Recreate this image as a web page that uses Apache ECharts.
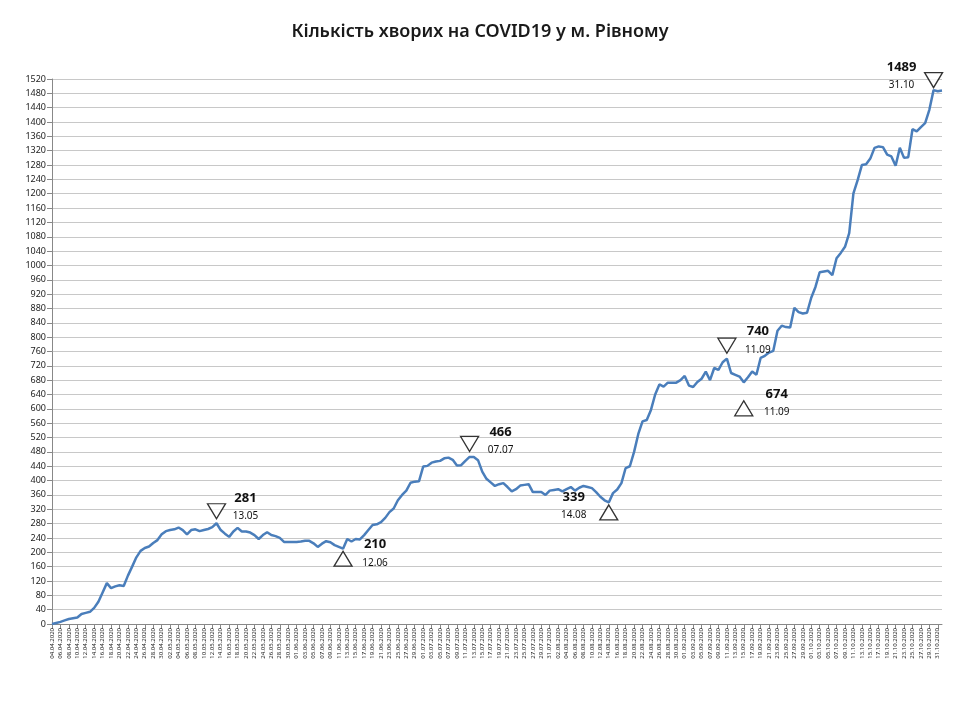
<!DOCTYPE html>
<html>
<head>
<meta charset="utf-8">
<script src="https://cdn.jsdelivr.net/npm/echarts@6/dist/echarts.min.js"></script>
<style>html,body{margin:0;background:#fff}#chart{width:960px;height:720px}</style>
</head>
<body>
<div id="chart"></div>
<script>
// daily totals, from 04.04.2020 to 01.11.2020
const cases = [
  0, 3, 6, 10, 14, 16, 18, 28, 31, 34, 45, 62, 88, 114, 100, 105, 108, 106, 135, 160,
  186, 204, 212, 216, 226, 234, 250, 259, 262, 264, 269, 262, 250, 262, 264, 259, 262, 265, 270, 281,
  262, 252, 243, 258, 268, 258, 258, 255, 248, 237, 248, 256, 248, 245, 240, 229, 229, 229, 229, 230,
  232, 232, 225, 215, 224, 231, 228, 220, 215, 210, 237, 230, 237, 236, 248, 262, 276, 278, 284, 296,
  312, 322, 345, 360, 372, 394, 397, 398, 439, 441, 450, 453, 455, 462, 464, 458, 442, 443, 455, 466,
  466, 457, 425, 405, 395, 385, 390, 393, 382, 370, 376, 386, 388, 390, 368, 368, 368, 360, 372, 374,
  376, 370, 376, 382, 372, 380, 385, 382, 379, 368, 355, 345, 339, 365, 375, 393, 435, 440, 480, 530,
  565, 569, 597, 640, 668, 662, 673, 673, 673, 680, 692, 665, 661, 675, 684, 704, 680, 714, 709, 730,
  740, 700, 695, 690, 674, 688, 704, 695, 742, 748, 757, 762, 818, 832, 828, 827, 882, 870, 866, 868,
  910, 940, 981, 983, 985, 973, 1020, 1035, 1052, 1090, 1201, 1238, 1280, 1282, 1298, 1328, 1332, 1330, 1309, 1304,
  1278, 1328, 1300, 1302, 1380, 1374, 1386, 1397, 1434, 1489, 1486, 1488
];

const dates = [];
const start = new Date(2020, 3, 4);
for (let i = 0; i < cases.length; i++) {
  const d = new Date(start.getTime() + i * 86400000);
  dates.push(String(d.getDate()).padStart(2, "0") + "." + String(d.getMonth() + 1).padStart(2, "0") + ".2020");
}

// annotated extremes: day index, printed date, peak (down triangle above) or dip
const noteDays = [39, 69, 99, 132, 160, 164, 209];
const noteDates = ["13.05", "12.06", "07.07", "14.08", "11.09", "11.09", "31.10"];
const notePeak = [true, false, true, false, true, false, true];
const noteText = [[29, -17], [32, 4], [31, -17], [-35, 3], [31, -19], [33, 20], [-32, -15]];
const noteTri = [-12, 10, -13, 10, -13, 26, -10];

const chart = echarts.init(document.getElementById("chart"));
const font = "Noto Sans";

chart.setOption({
  animation: false,
  textStyle: { fontFamily: font },
  title: {
    text: "Кількість хворих на COVID19 у м. Рівному",
    left: "center",
    top: 18,
    textStyle: { fontSize: 18, fontWeight: 600, color: "#1a1a1a", fontFamily: font }
  },
  grid: { left: 52, right: 18, top: 79, bottom: 96 },
  xAxis: {
    type: "category",
    data: dates,
    boundaryGap: false,
    axisLine: { lineStyle: { color: "#888" } },
    axisTick: { interval: 1, lineStyle: { color: "#888" } },
    axisLabel: { interval: 1, rotate: 90, fontSize: 6, color: "#222", margin: 4 }
  },
  yAxis: {
    type: "value",
    min: 0,
    max: 1520,
    interval: 40,
    axisLine: { show: true, lineStyle: { color: "#888" } },
    axisTick: { show: true, lineStyle: { color: "#888" } },
    axisLabel: { fontSize: 9, color: "#222", margin: 6, formatter: (v) => String(v) },
    splitLine: { lineStyle: { color: "#c8c8c8" } }
  },
  series: [
    {
      type: "line",
      data: cases,
      symbol: "none",
      lineStyle: { color: "#4a7ebb", width: 2.5 },
      markPoint: {
        symbol: "circle",
        symbolSize: 1,
        itemStyle: { color: "rgba(0,0,0,0)" },
        data: noteDays.map((d, i) => ({
          coord: [dates[d], cases[d]],
          label: {
            show: true,
            offset: noteText[i],
            formatter: "{v|" + cases[d] + "}\n{d|" + noteDates[i] + "}",
            rich: {
              v: { fontSize: 13, fontWeight: "bold", color: "#111", lineHeight: 20, fontFamily: font },
              d: { fontSize: 10, color: "#111", lineHeight: 16, fontFamily: font }
            }
          }
        }))
      }
    },
    {
      type: "scatter",
      symbol: "triangle",
      symbolSize: [18, 15],
      itemStyle: { color: "#fff", borderColor: "#000", borderWidth: 1.3 },
      z: 5,
      data: noteDays.map((d, i) => ({
        value: [dates[d], cases[d]],
        symbolRotate: notePeak[i] ? 180 : 0,
        symbolOffset: [0, noteTri[i]]
      }))
    }
  ]
});
</script>
</body>
</html>
